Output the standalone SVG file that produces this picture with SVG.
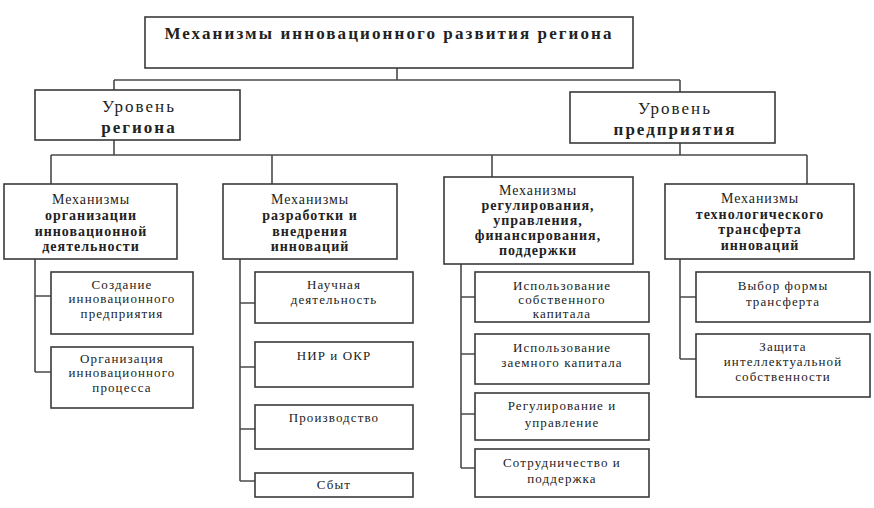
<svg xmlns="http://www.w3.org/2000/svg" width="874" height="508" viewBox="0 0 874 508">
<style>
.box{fill:#fff;stroke:#3a3a3a;stroke-width:1.6}
.ln{fill:none;stroke:#4a4a4a;stroke-width:1.6}
text{font-family:"Liberation Serif","Times New Roman",serif;fill:#222;text-anchor:middle}
.t{font-size:17px;font-weight:bold;letter-spacing:2.1px}
.lv{font-size:17px;letter-spacing:2px}
.lvb{font-size:17px;font-weight:bold;letter-spacing:2px}
.h{font-size:14px;letter-spacing:0.9px}
.hb{font-size:14px;font-weight:bold;letter-spacing:1px}
.s{font-size:13px;letter-spacing:1.1px}
</style>
<rect width="874" height="508" fill="#fff"/>
<g id="connectors">
<path class="ln" d="M397 68V80M114 80H680M114 80V90M680 80V92"/>
<path class="ln" d="M114 140V155M680 143V155M51 155H807M51 155V184M272 155V184M492 155V177M807 155V184"/>
<path class="ln" d="M35 259V372M35 296H51M35 372H51"/>
<path class="ln" d="M240 259V481M240 303H255M240 367H255M240 429H255M240 481H255"/>
<path class="ln" d="M461 264V468M461 297H475M461 354H475M461 414H475M461 468H475"/>
<path class="ln" d="M680 259V359M680 297H696M680 359H696"/>
</g>
<g id="root">
<rect class="box" x="145" y="17" width="488" height="51"/>
<text class="t" x="389" y="39">Механизмы инновационного развития региона</text>
</g>
<g id="level-region">
<rect class="box" x="35" y="90" width="205" height="50"/>
<text class="lv" x="139" y="112">Уровень</text>
<text class="lvb" x="139" y="133">региона</text>
</g>
<g id="level-enterprise">
<rect class="box" x="570" y="92" width="205" height="51"/>
<text class="lv" x="675" y="114">Уровень</text>
<text class="lvb" x="675" y="135">предприятия</text>
</g>
<g id="mech-org">
<rect class="box" x="4" y="184" width="173" height="75"/>
<text class="h" x="91" y="204">Механизмы</text>
<text class="hb" x="91" y="220">организации</text>
<text class="hb" x="91" y="236">инновационной</text>
<text class="hb" x="91" y="251">деятельности</text>
</g>
<g id="mech-dev">
<rect class="box" x="223" y="184" width="174" height="75"/>
<text class="h" x="310" y="204">Механизмы</text>
<text class="hb" x="310" y="220">разработки и</text>
<text class="hb" x="310" y="236">внедрения</text>
<text class="hb" x="310" y="251">инноваций</text>
</g>
<g id="mech-reg">
<rect class="box" x="444" y="177" width="189" height="87"/>
<text class="h" x="538" y="195">Механизмы</text>
<text class="hb" x="538" y="210">регулирования,</text>
<text class="hb" x="538" y="225">управления,</text>
<text class="hb" x="538" y="240">финансирования,</text>
<text class="hb" x="538" y="255">поддержки</text>
</g>
<g id="mech-transfer">
<rect class="box" x="665" y="184" width="189" height="75"/>
<text class="h" x="760" y="203">Механизмы</text>
<text class="hb" x="760" y="219">технологического</text>
<text class="hb" x="760" y="234">трансферта</text>
<text class="hb" x="760" y="250">инноваций</text>
</g>
<g id="create-enterprise">
<rect class="box" x="51" y="272" width="142" height="62"/>
<text class="s" x="122" y="289">Создание</text>
<text class="s" x="122" y="303">инновационного</text>
<text class="s" x="122" y="318">предприятия</text>
</g>
<g id="org-process">
<rect class="box" x="51" y="347" width="142" height="61"/>
<text class="s" x="122" y="363">Организация</text>
<text class="s" x="122" y="377">инновационного</text>
<text class="s" x="122" y="392">процесса</text>
</g>
<g id="science">
<rect class="box" x="255" y="272" width="158" height="51"/>
<text class="s" x="334" y="289">Научная</text>
<text class="s" x="334" y="304">деятельность</text>
</g>
<g id="nir">
<rect class="box" x="255" y="342" width="158" height="45"/>
<text class="s" x="334" y="360">НИР и ОКР</text>
</g>
<g id="production">
<rect class="box" x="255" y="405" width="158" height="44"/>
<text class="s" x="334" y="422">Производство</text>
</g>
<g id="sales">
<rect class="box" x="255" y="473" width="158" height="24"/>
<text class="s" x="334" y="489">Сбыт</text>
</g>
<g id="own-capital">
<rect class="box" x="475" y="272" width="174" height="50"/>
<text class="s" x="562" y="290">Использование</text>
<text class="s" x="562" y="304">собственного</text>
<text class="s" x="562" y="318">капитала</text>
</g>
<g id="borrowed-capital">
<rect class="box" x="475" y="334" width="174" height="50"/>
<text class="s" x="562" y="352">Использование</text>
<text class="s" x="562" y="367">заемного капитала</text>
</g>
<g id="regulation">
<rect class="box" x="475" y="393" width="174" height="47"/>
<text class="s" x="562" y="410">Регулирование и</text>
<text class="s" x="562" y="427">управление</text>
</g>
<g id="cooperation">
<rect class="box" x="475" y="449" width="174" height="48"/>
<text class="s" x="562" y="467">Сотрудничество и</text>
<text class="s" x="562" y="483">поддержка</text>
</g>
<g id="transfer-form">
<rect class="box" x="696" y="272" width="174" height="50"/>
<text class="s" x="783" y="290">Выбор формы</text>
<text class="s" x="783" y="306">трансферта</text>
</g>
<g id="ip-protection">
<rect class="box" x="696" y="334" width="174" height="63"/>
<text class="s" x="783" y="351">Защита</text>
<text class="s" x="783" y="366">интеллектуальной</text>
<text class="s" x="783" y="381">собственности</text>
</g>
</svg>
